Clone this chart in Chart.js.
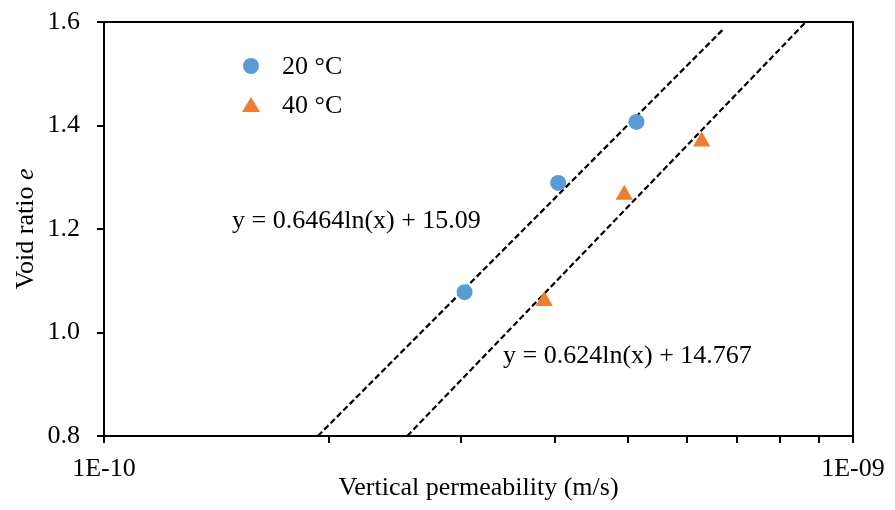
<!DOCTYPE html>
<html>
<head>
<meta charset="utf-8">
<script src="https://cdn.jsdelivr.net/npm/chart.js@4.4.1/dist/chart.umd.min.js"></script>
<style>
  html, body { margin: 0; padding: 0; background: #fff; }
  #wrap { width: 895px; height: 510px; }
</style>
</head>
<body>
<div id="wrap"><canvas id="scatterChart" width="895" height="510"></canvas></div>
<script>
// data
var perm20 = [3.03e-10, 4.04e-10, 5.14e-10];
var void20 = [1.078, 1.289, 1.407];
var perm40 = [3.87e-10, 4.95e-10, 6.28e-10];
var void40 = [1.061, 1.266, 1.369];

// trend line end points
var fit20X = [1.93e-10, 6.71e-10];
var fit20Y = [0.8, 1.586];
var fit40X = [2.54e-10, 8.65e-10];
var fit40Y = [0.8, 1.6];

var seriesNames = ["20 \u00B0C", "40 \u00B0C"];
var fitLabels = ["y = 0.6464ln(x) + 15.09", "y = 0.624ln(x) + 14.767"];
var xTicks = [1e-10, 2e-10, 3e-10, 4e-10, 5e-10, 6e-10, 7e-10, 8e-10, 9e-10, 1e-9];
var xTickLabels = { "-10": "1E-10", "-9": "1E-09" };
var yTicks = [0.8, 1.0, 1.2, 1.4, 1.6];

function pts(xs, ys) {
    return xs.map(function (x, i) { return { x: x, y: ys[i] }; });
}

var FONT = "'Liberation Serif', 'Times New Roman', serif";
var FS = 26;

// frame + legend + equations
var extras = {
    id: 'extras',
    afterDraw: function (chart) {
        var c = chart.ctx, a = chart.chartArea;
        c.save();
        c.strokeStyle = '#000';
        c.lineWidth = 2;
        c.strokeRect(a.left, a.top, a.right - a.left, a.bottom - a.top);

        // legend
        c.fillStyle = '#5B9BD5';
        c.beginPath();
        c.arc(251, 66, 8, 0, Math.PI * 2);
        c.fill();
        c.fillStyle = '#ED7D31';
        c.beginPath();
        c.moveTo(251, 97);
        c.lineTo(260, 112);
        c.lineTo(242, 112);
        c.closePath();
        c.fill();

        c.fillStyle = '#000';
        c.font = FS + 'px ' + FONT;
        c.textBaseline = 'middle';
        c.textAlign = 'left';
        c.fillText(seriesNames[0], 282, 67);
        c.fillText(seriesNames[1], 282, 106);

        c.fillText(fitLabels[0], 232, 221);
        c.fillText(fitLabels[1], 503, 356);

        // y title with italic e
        c.translate(26, 229);
        c.rotate(-Math.PI / 2);
        var t1 = 'Void ratio ';
        c.font = FS + 'px ' + FONT;
        var w1 = c.measureText(t1).width;
        c.font = 'italic ' + FS + 'px ' + FONT;
        var w2 = c.measureText('e').width;
        var x0 = -(w1 + w2) / 2;
        c.font = FS + 'px ' + FONT;
        c.fillText(t1, x0, 0);
        c.font = 'italic ' + FS + 'px ' + FONT;
        c.fillText('e', x0 + w1, 0);
        c.restore();
    }
};

var ctxS = document.getElementById('scatterChart');
var myChart = new Chart(ctxS, {
    type: 'scatter',
    data: {
        datasets: [{
            label: seriesNames[0],
            data: pts(perm20, void20),
            pointStyle: 'circle',
            pointRadius: 8,
            backgroundColor: '#5B9BD5',
            borderColor: '#5B9BD5',
            borderWidth: 0
        }, {
            label: seriesNames[1],
            data: pts(perm40, void40),
            pointStyle: 'triangle',
            pointRadius: 10,
            backgroundColor: '#ED7D31',
            borderColor: '#ED7D31',
            borderWidth: 0
        }, {
            label: 'fit 20',
            data: pts(fit20X, fit20Y),
            showLine: true,
            pointRadius: 0,
            borderColor: '#000',
            borderWidth: 2.2,
            borderDash: [6, 3]
        }, {
            label: 'fit 40',
            data: pts(fit40X, fit40Y),
            showLine: true,
            pointRadius: 0,
            borderColor: '#000',
            borderWidth: 2.2,
            borderDash: [6, 3]
        }]
    },
    options: {
        responsive: false,
        animation: false,
        layout: { padding: { left: 0, right: 42, top: 22, bottom: 0 } },
        plugins: {
            legend: { display: false },
            tooltip: { enabled: false }
        },
        scales: {
            x: {
                type: 'logarithmic',
                min: 1e-10,
                max: 1e-9,
                border: { display: false },
                grid: { drawOnChartArea: false, drawTicks: true, tickLength: 7, color: '#000', lineWidth: 2 },
                afterBuildTicks: function (s) { s.ticks = xTicks.map(function (v) { return { value: v }; }); },
                ticks: {
                    autoSkip: false,
                    maxRotation: 0,
                    padding: 11,
                    color: '#000',
                    font: { family: FONT, size: FS },
                    callback: function (v) {
                        var e = Math.log10(v);
                        var r = Math.round(e);
                        if (Math.abs(e - r) < 1e-6) return xTickLabels[String(r)] || '';
                        return '';
                    }
                },
                title: {
                    display: true,
                    text: 'Vertical permeability (m/s)',
                    color: '#000',
                    font: { family: FONT, size: FS },
                    padding: { top: 6, bottom: 6 }
                },
                afterFit: function (s) { s.height = 74; s.paddingLeft = 0; s.paddingRight = 0; }
            },
            y: {
                min: 0.8,
                max: 1.6,
                border: { display: false },
                grid: { drawOnChartArea: false, drawTicks: true, tickLength: 7, color: '#000', lineWidth: 2 },
                afterBuildTicks: function (s) { s.ticks = yTicks.map(function (v) { return { value: v }; }); },
                ticks: {
                    padding: 17,
                    color: '#000',
                    font: { family: FONT, size: FS },
                    callback: function (v) { return Number(v).toFixed(1); }
                },
                afterFit: function (s) { s.width = 104; s.paddingTop = 0; s.paddingBottom = 0; }
            }
        }
    },
    plugins: [extras]
});
</script>
</body>
</html>
